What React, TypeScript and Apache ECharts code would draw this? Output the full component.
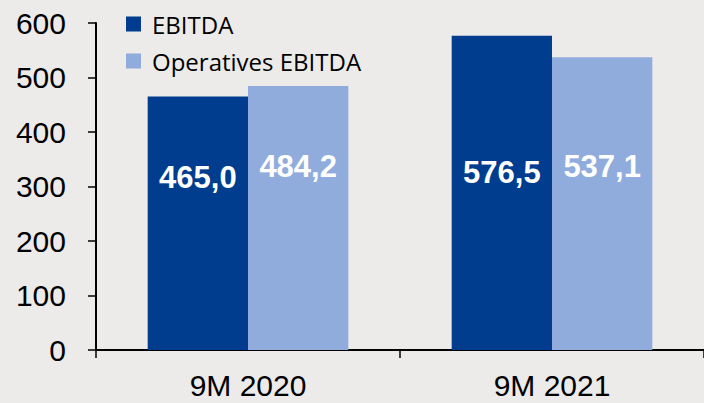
import React, { useEffect, useRef } from "react";
import * as echarts from "echarts";

const categories = ["9M 2020", "9M 2021"];
const ebitda = [465.0, 576.5];
const operativesEbitda = [484.2, 537.1];
const ebitdaLabelOffsets = [81, 137];
const operativesLabelOffsets = [80, 109];
const yTicks = { min: 0, max: 600, interval: 100 };

const fmt = (v: number) => v.toFixed(1).replace(".", ",");

export default function App() {
  const ref = useRef<HTMLDivElement>(null);
  useEffect(() => {
    const chart = echarts.init(ref.current!, undefined, { renderer: "svg" });
    const labelBase = {
      show: true,
      color: "#ffffff",
      fontFamily: "Liberation Sans, Arial, sans-serif",
      fontWeight: "bold" as const,
      fontSize: 31,
      align: "center" as const,
      verticalAlign: "middle" as const,
      formatter: (p: any) => fmt(p.value),
    };
    chart.setOption({
      animation: false,
      backgroundColor: "#EDEBE9",
      textStyle: { fontFamily: "Liberation Sans, Arial, sans-serif" },
      grid: { left: 96, top: 23, width: 610, bottom: 53 },
      legend: {
        orient: "vertical",
        left: 121,
        top: 7,
        itemWidth: 15,
        itemHeight: 15,
        itemGap: 13,
        icon: "rect",
        textStyle: {
          fontFamily: "Open Sans",
          fontSize: 24,
          lineHeight: 21,
          color: "#000",
          padding: [0, 0, 0, 6],
        },
        data: ["EBITDA", "Operatives EBITDA"],
      },
      xAxis: {
        type: "category",
        data: categories,
        axisLine: { show: true, lineStyle: { color: "#000", width: 2 } },
        axisTick: { show: true, length: 8, lineStyle: { color: "#000", width: 1.5 } },
        axisLabel: { fontSize: 30, color: "#000", margin: 20, fontFamily: "Liberation Sans, Arial, sans-serif" },
      },
      yAxis: {
        type: "value",
        min: yTicks.min,
        max: yTicks.max,
        interval: yTicks.interval,
        splitLine: { show: false },
        axisLine: { show: true, lineStyle: { color: "#000", width: 2 } },
        axisTick: { show: true, length: 8, lineStyle: { color: "#000", width: 1.5 } },
        axisLabel: { fontSize: 30, color: "#000", margin: 30, fontFamily: "Liberation Sans, Arial, sans-serif" },
      },
      series: [
        {
          name: "EBITDA",
          type: "bar",
          barGap: "0%",
          barCategoryGap: "34%",
          itemStyle: { color: "#003D8F" },
          data: ebitda.map((v, i) => ({
            value: v,
            label: { ...labelBase, position: ["50%", ebitdaLabelOffsets[i]] },
          })),
        },
        {
          name: "Operatives EBITDA",
          type: "bar",
          barGap: "0%",
          barCategoryGap: "34%",
          itemStyle: { color: "#8FACDD" },
          data: operativesEbitda.map((v, i) => ({
            value: v,
            label: { ...labelBase, position: ["50%", operativesLabelOffsets[i]] },
          })),
        },
      ],
    });
    return () => chart.dispose();
  }, []);
  return <div ref={ref} style={{ width: 704, height: 403, position: "fixed", left: 0, top: 0 }} />;
}
